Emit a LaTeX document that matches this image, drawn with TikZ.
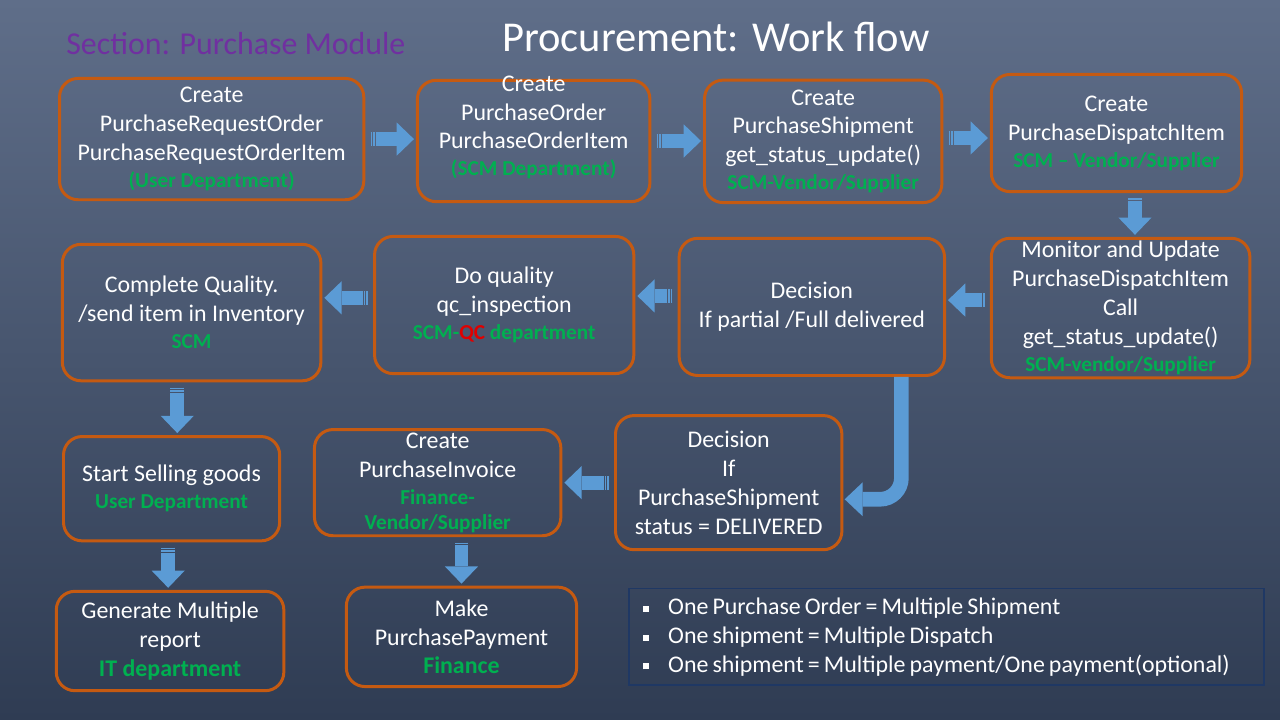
\documentclass[tikz,border=0pt]{standalone}
\usepackage{fontspec}
\setmainfont{Carlito}
\usetikzlibrary{arrows.meta,positioning,calc}
\usepackage{xcolor}
\definecolor{boxorange}{HTML}{C55A11}
\definecolor{deptgreen}{HTML}{00B050}
\definecolor{qcred}{HTML}{E00000}
\definecolor{arrowblue}{HTML}{5B9BD5}
\definecolor{sectionpurple}{HTML}{7030A0}
\definecolor{notenavy}{HTML}{1F3864}
\definecolor{bgtop}{HTML}{5F6E89}
\definecolor{bgbottom}{HTML}{2F3C53}
\newcommand{\dept}[1]{{\fontsize{16pt}{19.5pt}\selectfont\bfseries\color{deptgreen}#1}}
\newcommand{\deptbig}[1]{{\bfseries\color{deptgreen}#1}}
\newcommand{\notebullet}{\makebox[18.75pt][l]{\raisebox{2pt}{\rule{4.5pt}{4.5pt}}}}
\newcommand{\notefont}{\fontsize{18pt}{21.75pt}\selectfont\spaceskip=0.17em plus 0.05em\relax}

\begin{document}
\begin{tikzpicture}[
  font=\fontsize{18pt}{21.75pt}\selectfont,
  box/.style={draw=boxorange, line width=2.25pt, rounded corners=14pt, align=center, inner sep=1pt, text=white},
  boxtext/.style={align=center, inner sep=1pt, text=white},
  notebox/.style={draw=notenavy, line width=1.2pt, minimum width=16.81cm, minimum height=2.55cm},
  notetext/.style={align=left, inner sep=0pt, text=white, font=\notefont},
  barrow/.style={color=arrowblue, line width=10.5pt, -{Triangle[length=13pt,width=25pt,line width=0pt]},
    dash pattern=on 1pt off 0.8pt on 1.3pt off 0.6pt on 300pt off 1pt, shorten <=4pt, shorten >=1.5pt},
  bentarrow/.style={color=arrowblue, line width=11pt, -{Triangle[length=13.5pt,width=25.5pt,line width=0pt]},
    rounded corners=16pt, shorten >=1pt}
]

\useasboundingbox (0,0) rectangle (33.867,-19.05);
\shade[top color=bgtop, bottom color=bgbottom] (0,0) rectangle (33.867,-19.05);

\node[text=sectionpurple, font=\fontsize{24pt}{29pt}\selectfont, anchor=base west, inner sep=0pt] (section) at (1.746,-1.44) {Section: Purchase Module};
\node[text=white, font=\fontsize{32pt}{38pt}\selectfont, anchor=base] (title) at (18.94,-1.35) {Procurement: Work flow};

\node[box, minimum width=8.05cm, minimum height=3.21cm] (pro) at (5.60,-3.68) {Create\\PurchaseRequestOrder\\PurchaseRequestOrderItem\\[-1.5pt]\dept{(User Department)}};
\node[box, minimum width=6.15cm, minimum height=3.21cm] (po) at (14.12,-3.73) {};
\node[boxtext] (potext) at ([yshift=0.36cm]po.center) {Create\\PurchaseOrder\\PurchaseOrderItem\\[-1.5pt]\dept{(SCM Department)}};
\node[box, minimum width=6.28cm, minimum height=3.24cm] (ship) at (21.78,-3.74) {Create\\PurchaseShipment\\get\_status\_update()\\[-1.5pt]\dept{SCM-Vendor/Supplier}};
\node[box, minimum width=6.62cm, minimum height=3.10cm] (disp) at (29.54,-3.52) {Create\\PurchaseDispatchItem\\[-1.5pt]\dept{SCM -- Vendor/Supplier}};

\node[box, minimum width=6.84cm, minimum height=3.69cm] (mon) at (29.65,-8.15) {Monitor and Update\\PurchaseDispatchItem\\Call\\get\_status\_update()\\[-1.5pt]\dept{SCM-vendor/Supplier}};
\node[box, minimum width=7.02cm, minimum height=3.63cm] (dec1) at (21.48,-8.12) {Decision\\If partial /Full delivered};
\node[box, minimum width=6.86cm, minimum height=3.63cm] (qc) at (13.34,-8.07) {Do quality\\qc\_inspection\\[-1.5pt]\dept{SCM-{\color{qcred}QC} department}};
\node[box, minimum width=6.84cm, minimum height=3.61cm] (cq) at (5.07,-8.27) {Complete Quality.\\/send item in Inventory\\[-1.5pt]\dept{SCM}};

\node[box, minimum width=5.72cm, minimum height=2.76cm] (sell) at (4.54,-12.93) {Start Selling goods\\[-1.5pt]\dept{User Department}};
\node[box, minimum width=6.52cm, minimum height=2.81cm] (inv) at (11.58,-12.77) {Create\\PurchaseInvoice\\[-1.5pt]\dept{Finance-}\\[-3pt]\dept{Vendor/Supplier}};
\node[box, minimum width=5.99cm, minimum height=3.55cm] (dec2) at (19.28,-12.77) {Decision\\If\\PurchaseShipment\\status = DELIVERED};

\node[box, minimum width=6.02cm, minimum height=2.63cm] (rep) at (4.50,-16.96) {Generate Multiple\\report\\\deptbig{IT department}};
\node[box, minimum width=6.09cm, minimum height=2.63cm] (pay) at (12.21,-16.85) {Make\\PurchasePayment\\\deptbig{Finance}};

\node[notebox] (notes) at (25.04,-16.85) {};
\node[notetext, anchor=west] (notelist) at ([xshift=0.4cm]notes.west) {\notebullet One Purchase Order = Multiple Shipment\\\notebullet One shipment = Multiple Dispatch\\\notebullet One shipment = Multiple payment/One payment(optional)};

\draw[barrow] (pro.east) -- (pro.east -| po.west);
\draw[barrow] (po.east) -- (po.east -| ship.west);
\draw[barrow] ([yshift=0.09cm]ship.east) -- ([yshift=0.09cm]ship.east -| disp.west);
\draw[barrow] ([xshift=0.49cm]disp.south) -- ([xshift=0.49cm]disp.south |- mon.north);
\draw[barrow] ([yshift=0.21cm]mon.west) -- ([yshift=0.21cm]mon.west -| dec1.east);
\draw[barrow] ([yshift=0.29cm]dec1.west) -- ([yshift=0.29cm]dec1.west -| qc.east);
\draw[barrow] ([yshift=0.19cm]qc.west) -- ([yshift=0.19cm]qc.west -| cq.east);
\draw[barrow] ([xshift=-0.38cm]cq.south) -- ([xshift=-0.38cm]cq.south |- sell.north);
\draw[barrow] ([xshift=-0.09cm]sell.south) -- ([xshift=-0.09cm]sell.south |- rep.north);
\draw[barrow] (pay.north |- inv.south) -- (pay.north);
\draw[barrow] (dec2.west) -- (dec2.west -| inv.east);
\draw[bentarrow] ([xshift=2.37cm]dec1.south) |- ([yshift=-0.44cm]dec2.east);

\end{tikzpicture}
\end{document}
